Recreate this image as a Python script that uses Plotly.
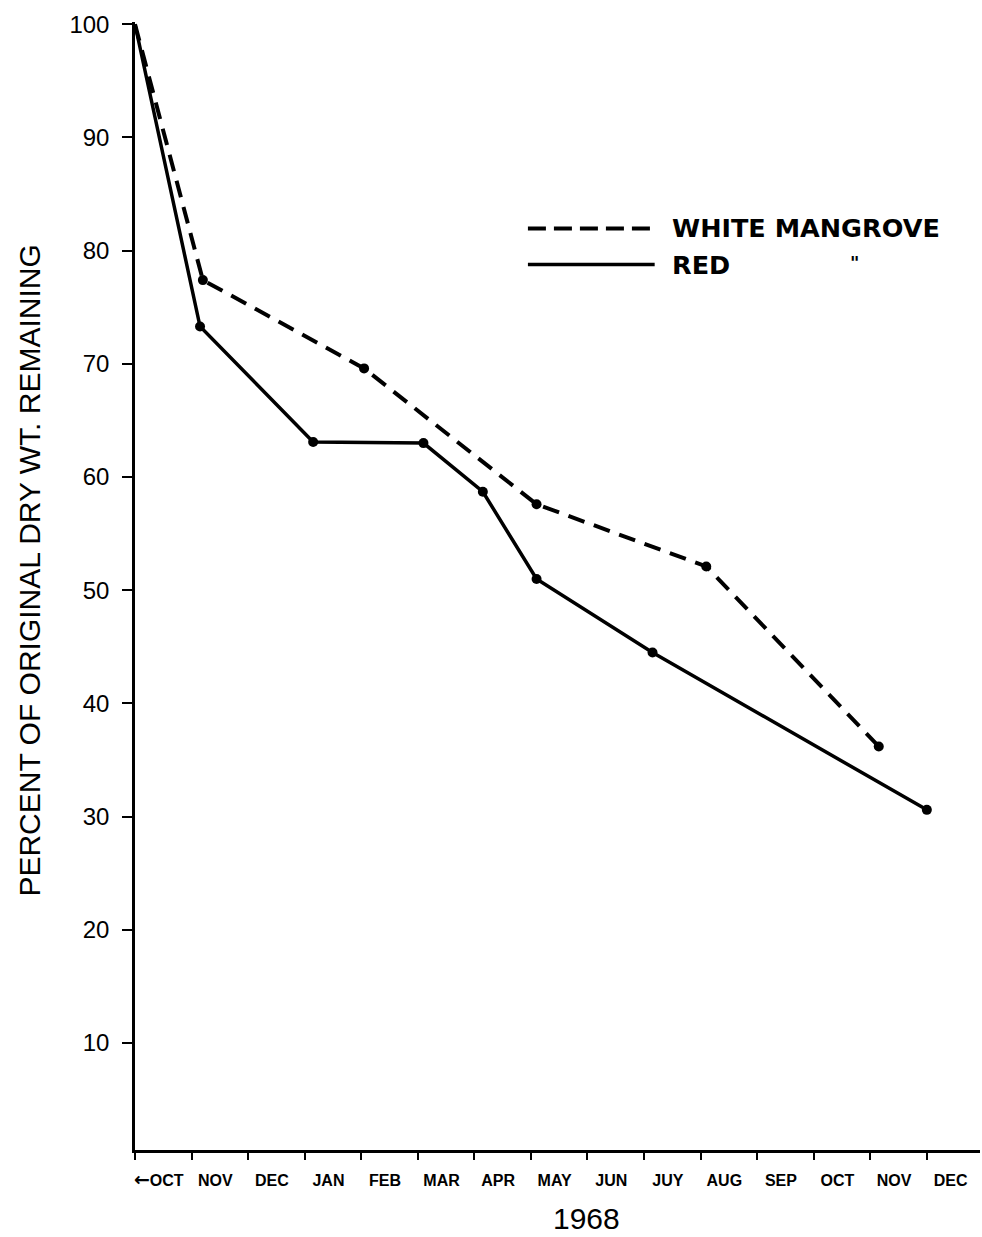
import plotly.graph_objects as go

# Month boundaries along the time axis (months elapsed since 1 Oct 1967)
month_labels = ["←OCT", "NOV", "DEC", "JAN", "FEB", "MAR", "APR", "MAY",
                "JUN", "JUY", "AUG", "SEP", "OCT", "NOV", "DEC"]
month_ticks = list(range(15))

# Percent of original dry weight remaining, by sampling time
red_months = [0.0, 1.15, 3.15, 5.1, 6.15, 7.1, 9.15, 14.0]
red_pct = [100, 73.3, 63.1, 63.0, 58.7, 51.0, 44.5, 30.6]

white_months = [0.0, 1.2, 4.05, 7.1, 10.1, 13.15]
white_pct = [100, 77.4, 69.6, 57.6, 52.1, 36.2]

y_ticks = [10, 20, 30, 40, 50, 60, 70, 80, 90, 100]

INK = "black"


def dots(n):
    # no dot on the shared starting point, filled dots on every sample after it
    return dict(color=INK, size=[0] + [10] * (n - 1), opacity=1,
                line=dict(width=0))


def month_text(label):
    # enlarge the leading arrow on the first label
    if label.startswith("←"):
        return ("<b><span style='font-family:DejaVu Sans;font-size:19px'>←</span>"
                + label[1:] + "</b>")
    return f"<b>{label}</b>"


fig = go.Figure()

fig.add_trace(go.Scatter(
    x=white_months, y=white_pct, mode="lines+markers",
    line=dict(color=INK, width=4, dash="17px,10px"),
    marker=dots(len(white_pct)),
    showlegend=False,
))
fig.add_trace(go.Scatter(
    x=red_months, y=red_pct, mode="lines+markers",
    line=dict(color=INK, width=3.5),
    marker=dots(len(red_pct)),
    showlegend=False,
))

# Hand-made key in the upper right
fig.add_shape(type="line", xref="paper", yref="paper",
              x0=0.465, x1=0.615, y0=0.817, y1=0.817,
              line=dict(color=INK, width=4, dash="18px,8px"))
fig.add_shape(type="line", xref="paper", yref="paper",
              x0=0.465, x1=0.615, y0=0.785, y1=0.785,
              line=dict(color=INK, width=3.5))

key_font = dict(family="DejaVu Sans", size=25.5, color=INK)
fig.add_annotation(xref="paper", yref="paper", x=0.633, y=0.817,
                   xanchor="left", yanchor="middle", showarrow=False,
                   text="<b>WHITE MANGROVE</b>", font=key_font)
fig.add_annotation(xref="paper", yref="paper", x=0.633, y=0.785,
                   xanchor="left", yanchor="middle", showarrow=False,
                   text="<b>RED</b>", font=key_font)
fig.add_annotation(xref="paper", yref="paper", x=0.852, y=0.787,
                   xanchor="center", yanchor="middle", showarrow=False,
                   text="<b>\"</b>", font=dict(family="DejaVu Sans", size=18, color=INK))

# Axis titles
fig.add_annotation(xref="paper", yref="paper", x=-0.125, y=0.514,
                   xanchor="center", yanchor="middle", showarrow=False,
                   textangle=-90, text="PERCENT OF ORIGINAL DRY WT. REMAINING",
                   font=dict(family="Liberation Sans", size=30, color=INK))
fig.add_annotation(xref="paper", yref="paper", x=0.534, y=-0.0603,
                   xanchor="center", yanchor="middle", showarrow=False,
                   text="1968",
                   font=dict(family="Liberation Sans", size=30, color=INK))

fig.update_layout(
    width=982, height=1237,
    margin=dict(l=135, r=2, t=22, b=87),
    paper_bgcolor="white", plot_bgcolor="white",
    xaxis=dict(
        range=[0, 14.94],
        tickmode="array",
        tickvals=[m + 0.42 for m in month_ticks],
        ticktext=[month_text(t) for t in month_labels],
        ticks="",
        ticklabelstandoff=14,
        tickfont=dict(family="Liberation Sans", size=16, color=INK),
        showline=True, linecolor=INK, linewidth=3,
        showgrid=False, zeroline=False,
        minor=dict(tickmode="array", tickvals=month_ticks, ticks="outside",
                   ticklen=7, tickwidth=2, tickcolor=INK, showgrid=False),
    ),
    yaxis=dict(
        range=[0.55, 100.2],
        tickmode="array", tickvals=y_ticks,
        ticks="outside", ticklen=10, tickwidth=2, tickcolor=INK,
        ticklabelstandoff=8,
        tickfont=dict(family="Liberation Sans", size=24, color=INK),
        showline=True, linecolor=INK, linewidth=2.5,
        showgrid=False, zeroline=False,
    ),
)

fig.write_html("out.html")
